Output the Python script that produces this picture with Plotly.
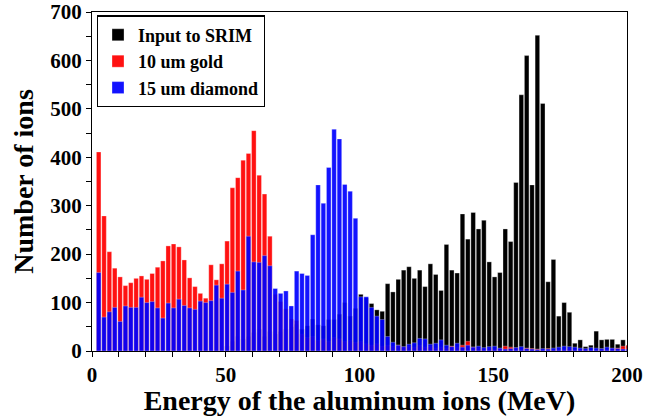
import plotly.graph_objects as go

# bin centres (MeV), 2 MeV bins
energy = [2.5 + 2 * i for i in range(100)]

input_srim = [
    0, 0, 0, 0, 0, 0, 0, 0, 0, 0,
    0, 0, 0, 0, 0, 0, 0, 0, 0, 0,
    0, 0, 0, 0, 10, 20, 30, 25, 30, 38,
    45, 30, 40, 35, 40, 45, 50, 55, 45, 52,
    66, 54, 52, 65, 65, 76, 100, 72, 88, 117,
    110, 98, 85, 82, 139, 122, 148, 167, 174, 150,
    167, 133, 180, 158, 125, 220, 167, 161, 283, 231,
    286, 252, 270, 184, 153, 162, 252, 226, 348, 529,
    610, 343, 652, 511, 143, 189, 72, 100, 80, 16,
    23, 9, 12, 41, 23, 24, 24, 14, 23, 11,
]

gold_10um = [
    411, 279, 205, 171, 153, 135, 141, 150, 155, 148,
    160, 173, 186, 217, 221, 215, 188, 151, 133, 119,
    109, 178, 147, 180, 227, 337, 358, 394, 408, 455,
    363, 324, 237, 117, 102, 87, 66, 63, 35, 28,
    30, 22, 25, 20, 28, 25, 20, 22, 18, 20,
    15, 12, 15, 10, 12, 10, 12, 8, 10, 8,
    12, 8, 10, 6, 8, 6, 10, 8, 12, 20,
    8, 6, 5, 6, 4, 5, 10, 8, 6, 4,
    6, 5, 4, 3, 5, 3, 4, 3, 5, 3,
    4, 3, 2, 3, 4, 3, 5, 6, 10, 12,
]

diamond_15um = [
    162, 70, 81, 90, 61, 93, 90, 90, 111, 100,
    102, 89, 68, 99, 89, 107, 94, 89, 86, 103,
    100, 104, 136, 109, 138, 121, 165, 126, 237, 184,
    183, 197, 176, 129, 119, 124, 93, 165, 160, 156,
    240, 343, 305, 379, 458, 438, 344, 330, 274, 112,
    112, 90, 72, 65, 30, 18, 12, 9, 14, 17,
    26, 25, 14, 16, 23, 12, 9, 16, 8, 12,
    8, 10, 7, 9, 10, 6, 4, 5, 7, 9,
    5, 4, 3, 5, 4, 6, 8, 10, 9, 8,
    6, 5, 7, 6, 5, 8, 6, 5, 4, 4,
]

serif = "Liberation Serif"
edge = dict(color="rgba(255,255,255,0.5)", width=0.6)

fig = go.Figure()
fig.add_trace(go.Bar(x=energy, y=input_srim, name="Input to SRIM",
                     marker=dict(color="#000000", line=edge)))
fig.add_trace(go.Bar(x=energy, y=gold_10um, name="10 um gold",
                     marker=dict(color="#ff0000", line=edge), opacity=0.93))
fig.add_trace(go.Bar(x=energy, y=diamond_15um, name="15 um diamond",
                     marker=dict(color="#0000ff", line=edge), opacity=0.92))

axis_common = dict(
    showline=True, linecolor="black", linewidth=1.2, mirror=True,
    ticks="outside", ticklen=5, tickwidth=1.2, tickcolor="black",
    showgrid=False, zeroline=False, automargin=False,
    ticklabeloverflow="allow",
    tickfont=dict(family=serif, size=21, color="black", weight="bold"),
)

fig.update_layout(
    width=645, height=416,
    margin=dict(l=92, r=18, t=12, b=65),
    paper_bgcolor="white", plot_bgcolor="white",
    barmode="overlay", bargap=0.15,
    showlegend=True,
    legend=dict(x=0.009, y=0.99, xanchor="left", yanchor="top",
                bordercolor="black", borderwidth=1.2, bgcolor="white",
                font=dict(family=serif, size=18, color="black", weight="bold"),
                tracegroupgap=0, itemwidth=30),
    xaxis=dict(range=[0, 200], dtick=50, tick0=0,
               minor=dict(dtick=10, ticks="outside", ticklen=5, tickcolor="black", tickwidth=1.2),
               title=dict(text="Energy of the aluminum ions (MeV)", standoff=0,
                          font=dict(family=serif, size=28, color="black", weight="bold")),
               **axis_common),
    yaxis=dict(range=[0, 700], dtick=100, tick0=0,
               minor=dict(dtick=50, ticks="outside", ticklen=5, tickcolor="black", tickwidth=1.2),
               title=dict(text="Number of ions", standoff=8,
                          font=dict(family=serif, size=28, color="black", weight="bold")),
               **axis_common),
)

# remove the default 8 px page margin so the figure sits at the window origin
fig.write_html("out.html", config={"displayModeBar": False},
               post_script="document.body.style.margin='0';")
